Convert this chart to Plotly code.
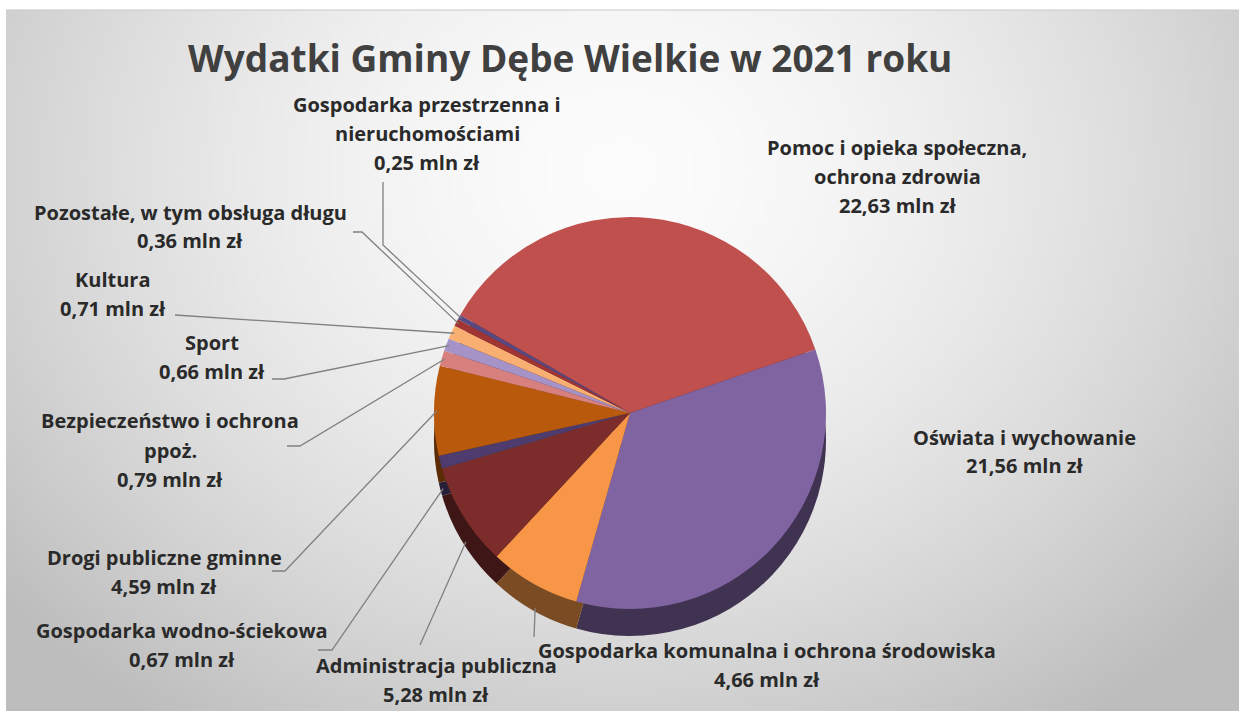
import base64
import math
import struct
import zlib

import plotly.graph_objects as go

# ---------------- data ----------------
categories = [
    "Pomoc i opieka społeczna, ochrona zdrowia",
    "Oświata i wychowanie",
    "Gospodarka komunalna i ochrona środowiska",
    "Administracja publiczna",
    "Gospodarka wodno-ściekowa",
    "Drogi publiczne gminne",
    "Bezpieczeństwo i ochrona ppoż.",
    "Sport",
    "Kultura",
    "Pozostałe, w tym obsługa długu",
    "Gospodarka przestrzenna i nieruchomościami",
]
values = [22.63, 21.56, 4.66, 5.28, 0.67, 4.59, 0.79, 0.66, 0.71, 0.36, 0.25]
label_lines = [
    ["Pomoc i opieka społeczna,", "ochrona zdrowia"],
    ["Oświata i wychowanie"],
    ["Gospodarka komunalna i ochrona środowiska"],
    ["Administracja publiczna"],
    ["Gospodarka wodno-ściekowa"],
    ["Drogi publiczne gminne"],
    ["Bezpieczeństwo i ochrona", "ppoż."],
    ["Sport"],
    ["Kultura"],
    ["Pozostałe, w tym obsługa długu"],
    ["Gospodarka przestrzenna i", "nieruchomościami"],
]
unit = "mln zł"
title_text = "Wydatki Gminy Dębe Wielkie w 2021 roku"

# ---------------- styles / layout ----------------
W, H = 1239, 711
top_colors = ["#C0504D", "#8064A2", "#F79646", "#7B2C2B", "#4E3C6E", "#B9590C",
              "#D8807E", "#A592C6", "#F9AF72", "#A03533", "#5A4882"]
PIE_CX, PIE_CY, PIE_R, DEPTH = 630, 413, 196, 27
ROTATION = -60
FONT = "Open Sans"
LABEL_SIZE = 20
LINE_GAP = 29
LABEL_COLOR = "#2a2a2a"

# label block centre x and centre y of first line (pixels)
label_pos = {
    0: (897, 147), 1: (1024, 437), 2: (767, 650), 3: (436, 665),
    4: (182, 630), 5: (164, 557), 6: (170, 421), 7: (212, 342),
    8: (113, 279), 9: (190, 212), 10: (427, 104),
}
# leader line start points (pixels); last point computed from the pie
leader_start = {
    10: [(383, 182), (383, 245)],
    9: [(353, 232), (362, 232)],
    8: [(175, 315)],
    7: [(272, 379), (284, 379)],
    6: [(287, 446), (300, 446)],
    5: [(272, 571), (285, 571)],
    4: [(318, 650), (332, 650)],
    3: [(420, 645)],
    2: [(534, 637)],
}


def darken(hx, f):
    hx = hx.lstrip("#")
    r, g, b = (int(hx[i:i + 2], 16) for i in (0, 2, 4))
    return "#%02X%02X%02X" % (int(r * f), int(g * f), int(b * f))


side_colors = [darken(c, 0.5) for c in top_colors]


def px(x):
    return x / W


def py(y):
    return 1 - y / H


def gradient_png(w, h):
    rows = []
    for j in range(h):
        y = (j + 0.5) / h * (H - 10) + 10
        row = bytearray()
        for i in range(w):
            x = (i + 0.5) / w * (W - 6) + 6
            d = math.hypot((x - 620) / 760, (y - 170) / 640)
            v = int(round(252 - 58 * min(d, 1.05) ** 1.6))
            row += bytes((v, v, v))
        rows.append(b"\x00" + bytes(row))
    raw = b"".join(rows)

    def chunk(t, d):
        return (struct.pack(">I", len(d)) + t + d
                + struct.pack(">I", zlib.crc32(t + d) & 0xFFFFFFFF))

    png = (b"\x89PNG\r\n\x1a\n"
           + chunk(b"IHDR", struct.pack(">IIBBBBB", w, h, 8, 2, 0, 0, 0))
           + chunk(b"IDAT", zlib.compress(raw, 9))
           + chunk(b"IEND", b""))
    return "data:image/png;base64," + base64.b64encode(png).decode()


def domain_for(cy):
    return dict(x=[px(PIE_CX - PIE_R), px(PIE_CX + PIE_R)],
                y=[py(cy + PIE_R), py(cy - PIE_R)])


fig = go.Figure()
# side (depth) of the pie
fig.add_trace(go.Pie(
    labels=categories, values=values, sort=False, direction="clockwise",
    rotation=ROTATION, textinfo="none", hoverinfo="skip", showlegend=False,
    marker=dict(colors=side_colors, line=dict(width=0)),
    domain=domain_for(PIE_CY + DEPTH),
))
# top face
fig.add_trace(go.Pie(
    labels=categories, values=values, sort=False, direction="clockwise",
    rotation=ROTATION, textinfo="none", showlegend=False,
    hovertemplate="%{label}<br>%{value:.2f} mln zł<extra></extra>",
    marker=dict(colors=top_colors, line=dict(width=0)),
    domain=domain_for(PIE_CY),
))

annotations = [dict(
    text=title_text, x=px(570), y=py(58), xref="paper", yref="paper",
    showarrow=False, xanchor="center", yanchor="middle",
    font=dict(family=FONT, size=37, color="#404040", weight=700),
)]

total = sum(values)
cum = 0.0
shapes = [dict(type="line", xref="paper", yref="paper",
               x0=px(6), x1=1, y0=py(10), y1=py(10),
               line=dict(color="#c8c8c8", width=1))]
for i, v in enumerate(values):
    mid = ROTATION + (cum + v / 2) / total * 360.0
    cum += v
    lines = label_lines[i] + ["%s %s" % (f"{v:.2f}".replace(".", ","), unit)]
    cx, cy = label_pos[i]
    for k, t in enumerate(lines):
        annotations.append(dict(
            text=t, x=px(cx), y=py(cy + k * LINE_GAP), xref="paper", yref="paper",
            showarrow=False, xanchor="center", yanchor="middle",
            font=dict(family=FONT, size=LABEL_SIZE, color=LABEL_COLOR, weight=700),
        ))
    if i in leader_start:
        a = math.radians(mid)
        ex = PIE_CX + (PIE_R - 3) * math.sin(a)
        ey = PIE_CY - (PIE_R - 3) * math.cos(a)
        if math.cos(a) < 0:
            ey += DEPTH
        pts = leader_start[i] + [(ex, ey)]
        path = "M " + " L ".join("%.5f,%.5f" % (px(x), py(y)) for x, y in pts)
        shapes.append(dict(type="path", path=path, xref="paper", yref="paper",
                           line=dict(color="#808080", width=1.3)))

fig.update_layout(
    width=W, height=H,
    margin=dict(l=0, r=0, t=0, b=0),
    paper_bgcolor="white",
    images=[dict(source=gradient_png(206, 117), xref="paper", yref="paper",
                 x=px(6), y=py(10), sizex=px(W - 6), sizey=(H - 10) / H,
                 xanchor="left", yanchor="top", sizing="stretch", layer="below")],
    annotations=annotations,
    shapes=shapes,
)

fig.write_html(
    "out.html",
    config={"displayModeBar": False},
    post_script="document.body.style.margin='0';document.body.style.overflow='hidden';",
)
